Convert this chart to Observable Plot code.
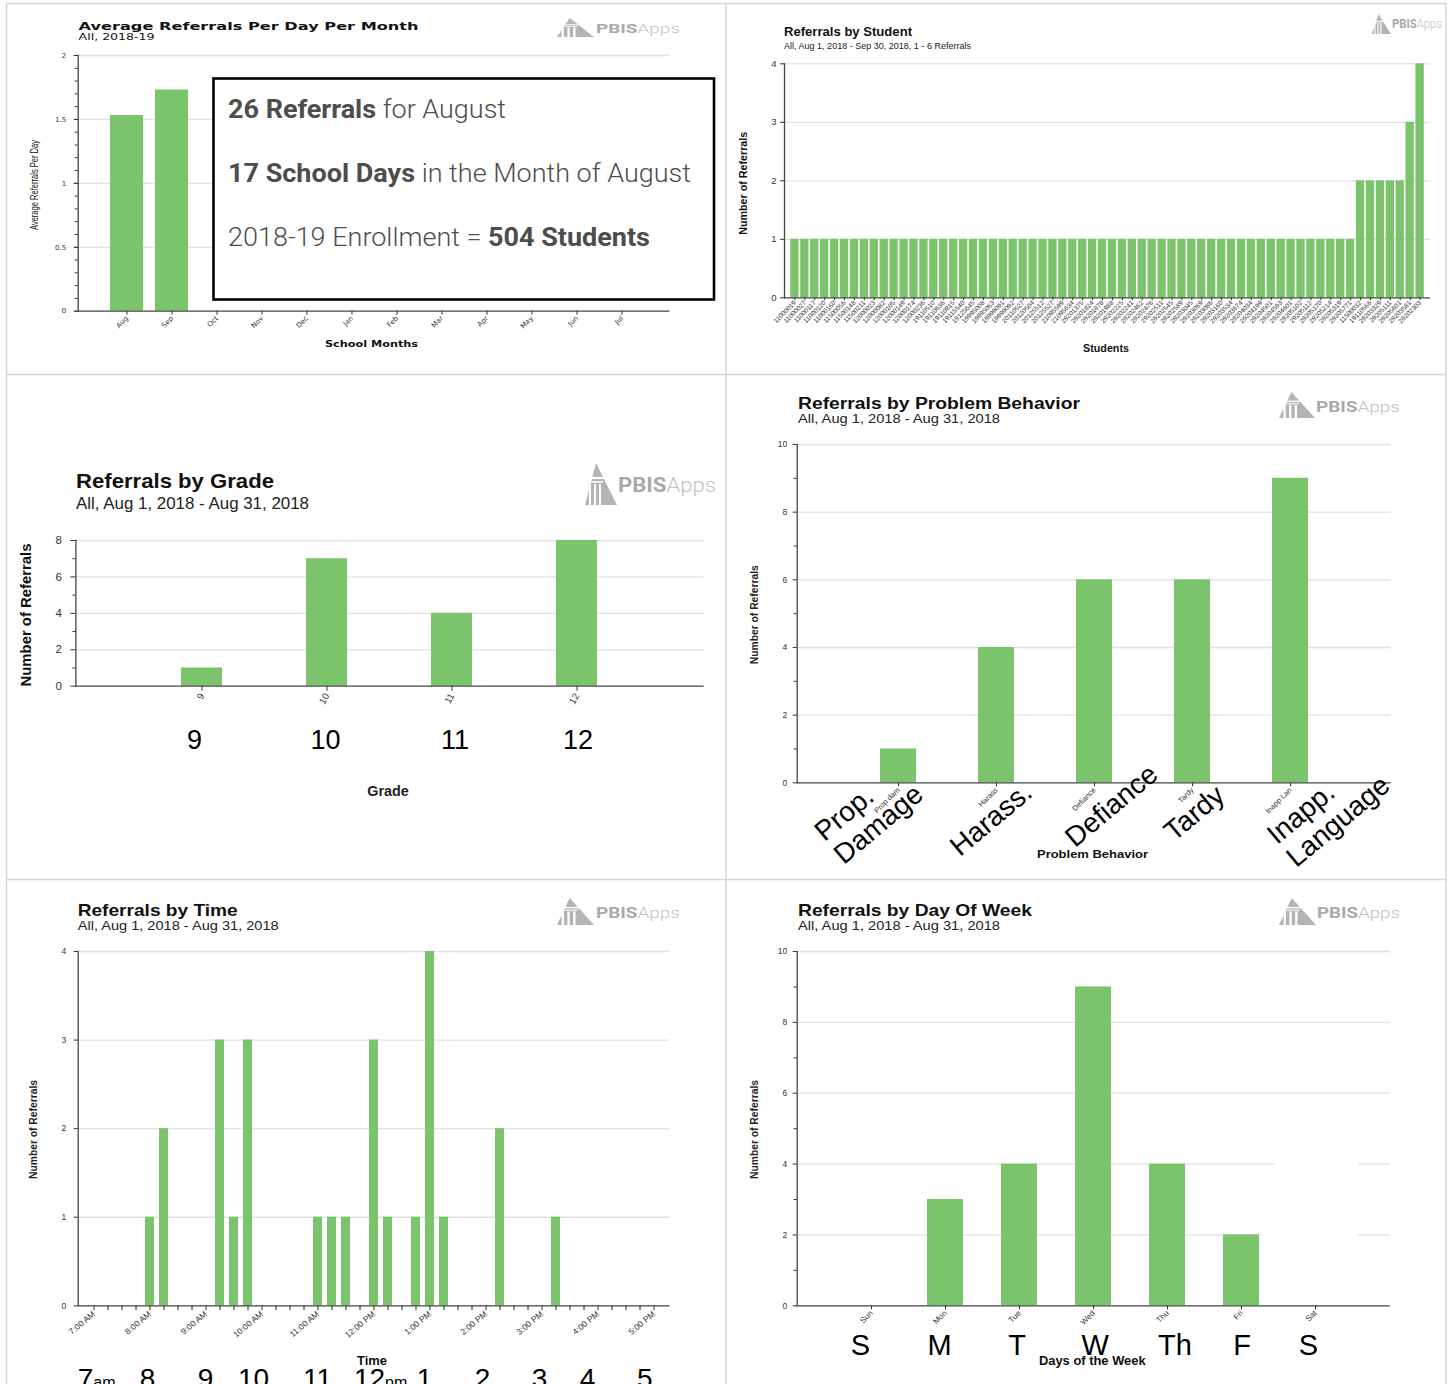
<!DOCTYPE html>
<html><head><meta charset="utf-8">
<script src="https://cdn.jsdelivr.net/npm/d3@7"></script>
<script src="https://cdn.jsdelivr.net/npm/@observablehq/plot@0.6"></script>
<style>
html,body{margin:0;padding:0;background:#fff;overflow:hidden}
#root{position:relative;width:1449px;height:1384px;overflow:hidden;background:#fff}
#root > svg{position:absolute}
</style></head><body><div id="root"></div>
<script>
// ---------------- DATA ----------------
const months = ["Aug","Sep","Oct","Nov","Dec","Jan","Feb","Mar","Apr","May","Jun","Jul"];
const monthAvg = [1.53, 1.73, null, null, null, null, null, null, null, null, null, null];

const studentIds = ["11000019","11000027","11000117","11000120","11000160","11500056","11500148","11500211",
"12000023","12000082","12000105","12000149","12000174","12000236","19110510","19110636","19110815","19115540",
"19125645","19995008","19995063","19999091","19999092","20110527","20120504","20125512","20125527","21095599",
"21095634","29201375","29201824","29201878","29201988","29202225","29202241","29202462","29202476","29202511",
"29202545","29202589","29203045","29203069","29203086","29203160","29203534","29203674","29204034","29204199",
"29204501","29204593","29204601","29205102","29205112","29205170","29205214","29205319","29205771",
"11500032","19110566","29203329","29205111","29205601","29203581","29202303"];
const studentCounts = [1,1,1,1,1,1,1,1,1,1,1,1,1,1,1,1,1,1,1,1,1,1,1,1,1,1,1,1,1,1,1,1,1,1,1,1,1,1,1,1,1,1,1,1,1,1,1,1,1,1,1,1,1,1,1,1,1,
2,2,2,2,2,3,4];

const grades = ["9","10","11","12"];
const gradeCounts = [1,7,4,8];

const behaviors = ["Prop dam","Harass","Defiance","Tardy","Inapp Lan"];
const behaviorCounts = [1,4,6,6,9];
const behaviorBig = ["Prop.\nDamage","Harass.","Defiance","Tardy","Inapp.\nLanguage"];

const timeSlots = ["7:00 AM","7:15 AM","7:30 AM","7:45 AM","8:00 AM","8:15 AM","8:30 AM","8:45 AM","9:00 AM","9:15 AM",
"9:30 AM","9:45 AM","10:00 AM","10:15 AM","10:30 AM","10:45 AM","11:00 AM","11:15 AM","11:30 AM","11:45 AM",
"12:00 PM","12:15 PM","12:30 PM","12:45 PM","1:00 PM","1:15 PM","1:30 PM","1:45 PM","2:00 PM","2:15 PM",
"2:30 PM","2:45 PM","3:00 PM","3:15 PM","3:30 PM","3:45 PM","4:00 PM","4:15 PM","4:30 PM","4:45 PM","5:00 PM"];
const timeCounts = [0,0,0,0,1,2,0,0,0,3,1,3,0,0,0,0,1,1,1,0,3,1,0,1,4,1,0,0,0,2,0,0,0,1,0,0,0,0,0,0,0];
const hourTicks = ["7:00 AM","8:00 AM","9:00 AM","10:00 AM","11:00 AM","12:00 PM","1:00 PM","2:00 PM","3:00 PM","4:00 PM","5:00 PM"];
const hourBig = ["7","8","9","10","11","12","1","2","3","4","5"];
const hourSuffix = ["am","","","","","pm","","","","",""];

const days = ["Sun","Mon","Tue","Wed","Thu","Fri","Sat"];
const dayCounts = [0,3,4,9,4,2,0];
const dayBig = ["S","M","T","W","Th","F","S"];

// ---------------- LAYOUT (kept apart from data) ----------------
const GREEN = "#7bc46c";
const SANS = "'Liberation Sans', Arial, sans-serif";
const NARROW = "'Liberation Sans Narrow', 'Liberation Sans', Arial, sans-serif";
const gradeBigDx = [-7,-1,3.5,1.5];
const behaviorBigDx = [-73.5,-36,-19,-18,-13];
const behaviorBigDy = [60,75,66,60,63];
const dayBigDx = [-10.5,-5.5,-2,2.3,8,1,-6.5];
const hourBigDx = [-8,-2,0,-8,0,-4,-5,-3,-2,-10,-8.6];

const root = document.getElementById("root");

// base borders
const base = d3.create("svg").attr("width",1449).attr("height",1384).style("left","0px").style("top","0px").style("z-index",0);
[[6.5,3,6.5,1384],[726,3,726,1384],[1446,3,1446,1384],[6,3.5,1446,3.5],[6,374.5,1446,374.5],[6,879.5,1446,879.5]]
 .forEach(([x1,y1,x2,y2]) => base.append("line").attr("x1",x1).attr("y1",y1).attr("x2",x2).attr("y2",y2)
   .attr("stroke","#d6d6d6").attr("stroke-width",1.5));
root.appendChild(base.node());

function toRows(keys, vals){ return keys.map((k,i)=>({k, v: vals[i]})).filter(d => d.v != null && d.v !== 0); }

function barPanel(c) {
  const [L,T,W,H] = c.box, [fx0,fy0,fx1,fy1] = c.frame;
  const p = Plot.plot({
    width: W, height: H,
    marginLeft: fx0-L, marginTop: fy0-T, marginRight: L+W-fx1, marginBottom: T+H-fy1,
    style: {background:"transparent", overflow:"visible", fontFamily: c.font, color:"#333"},
    x: {type:"band", domain: c.domain, paddingInner: c.pi, paddingOuter: c.po},
    y: {domain: c.yDomain},
    marks: [
      Plot.gridY(c.grid, {stroke:"#e1e1e1", strokeOpacity:1, strokeWidth:1.3}),
      Plot.barY(c.data, {x:"k", y:"v", fill: GREEN}),
      Plot.ruleY([c.yDomain[0]], {stroke:"#444", strokeWidth:1.3}),
      Plot.frame({anchor:"left", stroke:"#444", strokeWidth:1.3}),
      Plot.axisY({ticks: c.yTicks, tickSize: c.yTickSize, tickPadding: c.yTickPad, fontSize: c.yFont, label: null, tickFormat: d => String(d)}),
      c.yMinor ? Plot.axisY({ticks: c.yMinor, tickSize: 3, tickFormat: () => "", label: null}) : null,
      Plot.axisX({tickRotate: c.rot, tickSize: c.xTickSize, tickPadding: c.xTickPad, fontSize: c.xFont, label: null,
                  tickFormat: c.xFormat || (d => d)})
    ]
  });
  p.style.left = L + "px"; p.style.top = T + "px"; p.style.zIndex = 1;
  root.appendChild(p);
  const sx = p.scale("x"), sy = p.scale("y");
  return {
    cx: v => L + sx.apply(v) + sx.bandwidth/2,
    y: v => T + sy.apply(v)
  };
}

const P1 = barPanel({box:[7,4,719,370], frame:[77.7,55,669.4,310.7], domain: months, data: toRows(months, monthAvg),
  yDomain:[0,2], grid:[0.5,1,1.5,2], yTicks:[0,0.5,1,1.5,2], yMinor: d3.ticks(0,2,20), pi:0.265, po:0.66,
  font:"'DejaVu Sans', Verdana, sans-serif", yFont:7, yTickSize:4, yTickPad:8, rot:-45, xFont:7, xTickSize:4, xTickPad:2});

const P2 = barPanel({box:[727,4,719,370], frame:[784,63.3,1430,297.3], domain: studentIds, data: toRows(studentIds, studentCounts),
  yDomain:[0,4], grid:[1,2,3,4], yTicks:[0,1,2,3,4], pi:0.16, po:0.63,
  font: NARROW, yFont:9.5, yTickSize:4, yTickPad:4, rot:-45, xFont:6.5, xTickSize:3, xTickPad:1});

const P3 = barPanel({box:[7,375,719,504], frame:[75.4,540,703.6,685.7], domain: grades, data: toRows(grades, gradeCounts),
  yDomain:[0,8], grid:[2,4,6,8], yTicks:[0,2,4,6,8], yMinor:[1,3,5,7], pi:0.668, po:0.84,
  font: NARROW, yFont:11.5, yTickSize:5, yTickPad:9, rot:-60, xFont:9.5, xTickSize:5, xTickPad:3});

const P4 = barPanel({box:[727,375,719,504], frame:[796.7,444,1390.7,782.3], domain: behaviors, data: toRows(behaviors, behaviorCounts),
  yDomain:[0,10], grid:[2,4,6,8,10], yTicks:[0,2,4,6,8,10], yMinor:[1,3,5,7,9], pi:0.635, po:0.825,
  font: SANS, yFont:8.5, yTickSize:4, yTickPad:6, rot:-45, xFont:7.5, xTickSize:4, xTickPad:2});

const P5 = barPanel({box:[7,880,719,504], frame:[77.7,951,669.4,1305.3], domain: timeSlots, data: toRows(timeSlots, timeCounts),
  yDomain:[0,4], grid:[1,2,3,4], yTicks:[0,1,2,3,4], pi:0.325, po:0.68,
  font: SANS, yFont:8.5, yTickSize:4, yTickPad:8, rot:-40, xFont:8.5, xTickSize:5, xTickPad:2,
  xFormat: d => hourTicks.includes(d) ? d : ""});

const P6 = barPanel({box:[727,880,719,504], frame:[796.7,951,1389.8,1305.3], domain: days, data: toRows(days, dayCounts),
  yDomain:[0,10], grid:[2,4,6,8,10], yTicks:[0,2,4,6,8,10], yMinor:[1,3,5,7,9], pi:0.514, po:0.76,
  font: SANS, yFont:8.5, yTickSize:4, yTickPad:6, rot:-45, xFont:8, xTickSize:4, xTickPad:2});

// ---------------- OVERLAY ----------------
const ov = d3.create("svg").attr("width",1449).attr("height",1384).style("left","0px").style("top","0px").style("z-index",2)
  .style("pointer-events","none");
root.appendChild(ov.node());

function T(o) {
  const t = ov.append("text").attr("x", o.x).attr("y", o.y)
    .attr("font-family", o.ff || SANS).attr("font-size", o.fs).attr("font-weight", o.fw || "normal")
    .attr("fill", o.fill || "#111").attr("text-anchor", o.anchor || "start");
  if (o.rot) t.attr("transform", `rotate(${o.rot},${o.x},${o.y})`);
  if (o.parts) o.parts.forEach(p => t.append("tspan").attr("font-weight", p.fw || null).text(p.t));
  else t.text(o.t);
  if (o.len) t.attr("textLength", o.len).attr("lengthAdjust", "spacingAndGlyphs");
  return t;
}

function logo(o) {
  const g = ov.append("g").attr("transform", `translate(${o.ix},${o.iy}) scale(${o.iw/32},${o.ih/42})`);
  g.append("path").attr("d","M11,0 L32,42 L0,42 Z").attr("fill","#b4b4b4");
  g.append("path").attr("d","M0,15 L21,15").attr("stroke","#fff").attr("stroke-width",2.2);
  g.append("path").attr("d","M0,19 L18,19").attr("stroke","#fff").attr("stroke-width",1.6);
  [5,10,15].forEach(x => g.append("path").attr("d",`M${x},21 L${x},42`).attr("stroke","#fff").attr("stroke-width",2));
  const t = ov.append("text").attr("x", o.tx).attr("y", o.tb).attr("font-family","Roboto, 'Liberation Sans', sans-serif")
    .attr("font-size", o.fs).attr("textLength", o.tw).attr("lengthAdjust","spacingAndGlyphs");
  t.append("tspan").attr("font-weight",700).attr("fill","#a9a9a9").text("PBIS");
  t.append("tspan").attr("font-weight",300).attr("fill","#c2c2c2").text("Apps");
}

// P1
T({x:78.6, y:30, t:"Average Referrals Per Day Per Month", ff:"'DejaVu Sans', Verdana, sans-serif", fs:11, fw:"bold", len:340});
T({x:78.6, y:40, t:"All, 2018-19", ff:"'DejaVu Sans', Verdana, sans-serif", fs:9, len:76});
T({x:371.5, y:347, t:"School Months", ff:"'DejaVu Sans', Verdana, sans-serif", fs:8.5, fw:"bold", anchor:"middle", len:93});
T({x:37.5, y:185, t:"Average Referrals Per Day", ff:NARROW, fs:10, anchor:"middle", rot:-90, len:90});
logo({ix:557, iy:18, iw:37, ih:19, tx:596, tb:33, fs:13, tw:84});
ov.append("rect").attr("x",213.5).attr("y",78.5).attr("width",500.5).attr("height",221)
  .attr("fill","#fff").attr("stroke","#000").attr("stroke-width",2.6);
const BOX = "Roboto, 'Liberation Sans', sans-serif";
T({x:228, y:117.5, ff:BOX, fs:25.5, fill:"#4d4d4d", len:278, parts:[{t:"26 Referrals", fw:700},{t:" for August", fw:300}]});
T({x:228, y:181.7, ff:BOX, fs:25.5, fill:"#4d4d4d", len:463, parts:[{t:"17 School Days", fw:700},{t:" in the Month of August", fw:300}]});
T({x:228, y:246, ff:BOX, fs:25.5, fill:"#4d4d4d", len:422, parts:[{t:"2018-19 Enrollment = ", fw:300},{t:"504 Students", fw:700}]});

// P2
T({x:784, y:36, t:"Referrals by Student", fs:13, fw:"bold", len:128});
T({x:784, y:48.7, t:"All, Aug 1, 2018 - Sep 30, 2018, 1 - 6 Referrals", fs:9, fill:"#222", len:187});
T({x:1106, y:351.5, t:"Students", fs:11.5, fw:"bold", anchor:"middle", len:46});
T({x:747, y:183.3, t:"Number of Referrals", fs:11, fw:"bold", anchor:"middle", rot:-90, len:103});
logo({ix:1372, iy:14, iw:19, ih:20, tx:1392, tb:28, fs:13, tw:50});

// P3
T({x:76, y:488, t:"Referrals by Grade", fs:21, fw:"bold", len:198});
T({x:76, y:509, t:"All, Aug 1, 2018 - Aug 31, 2018", fs:16.5, fill:"#222", len:233});
T({x:388, y:795.7, t:"Grade", fs:14.5, fw:"bold", fill:"#222", anchor:"middle", len:41.5});
T({x:31, y:615, t:"Number of Referrals", fs:14.5, fw:"bold", anchor:"middle", rot:-90, len:143});
logo({ix:585, iy:463, iw:32, ih:42, tx:618, tb:492, fs:21, tw:98});
grades.forEach((g,i) => T({x: P3.cx(g) + gradeBigDx[i], y:749, t:g, fs:27, fill:"#000", anchor:"middle"}));

// P4
T({x:798, y:409, t:"Referrals by Problem Behavior", fs:16, fw:"bold", len:282});
T({x:798, y:423.3, t:"All, Aug 1, 2018 - Aug 31, 2018", fs:13.5, fill:"#222", len:202});
T({x:1092.5, y:857.7, t:"Problem Behavior", fs:11.5, fw:"bold", anchor:"middle", len:111});
T({x:758, y:614.7, t:"Number of Referrals", fs:11, fw:"bold", fill:"#222", anchor:"middle", rot:-90, len:99});
logo({ix:1279, iy:392, iw:36, ih:26, tx:1316, tb:412, fs:15, tw:84});
behaviors.forEach((b,i) => {
  const px = P4.cx(b) + behaviorBigDx[i], py = P4.y(0) + behaviorBigDy[i];
  const t = ov.append("text").attr("transform", `translate(${px},${py}) rotate(-40)`)
    .attr("font-family", SANS).attr("font-size", 28).attr("fill", "#000");
  behaviorBig[i].split("\n").forEach((line, j) => t.append("tspan").attr("x", 0).attr("dy", j ? 30 : 0).text(line));
});

// P5
T({x:77.7, y:916, t:"Referrals by Time", fs:16.5, fw:"bold", len:160});
T({x:77.7, y:930, t:"All, Aug 1, 2018 - Aug 31, 2018", fs:13, fill:"#222", len:201});
T({x:372, y:1365, t:"Time", fs:12, fw:"bold", anchor:"middle", len:30});
T({x:37, y:1129.5, t:"Number of Referrals", fs:11, fw:"bold", fill:"#222", anchor:"middle", rot:-90, len:99});
logo({ix:557, iy:898, iw:37, ih:27, tx:596, tb:918, fs:15, tw:84});
hourTicks.forEach((h,i) => {
  const cx = P5.cx(h) + hourBigDx[i];
  const t = T({x:cx, y:1388, t:hourBig[i], fs:28, fill:"#000", anchor:"middle"});
  if (hourSuffix[i]) {
    const w = t.node().getComputedTextLength();
    T({x: cx + w/2, y:1388, t:hourSuffix[i], fs:16, fill:"#000"});
  }
});

// P6
T({x:798, y:916, t:"Referrals by Day Of Week", fs:16.5, fw:"bold", len:234});
T({x:798, y:930, t:"All, Aug 1, 2018 - Aug 31, 2018", fs:13, fill:"#222", len:202});
T({x:1092.3, y:1365, t:"Days of the Week", fs:12, fw:"bold", anchor:"middle", len:106.7});
T({x:758, y:1129.5, t:"Number of Referrals", fs:11, fw:"bold", fill:"#222", anchor:"middle", rot:-90, len:99});
logo({ix:1279, iy:898, iw:37, ih:27, tx:1317, tb:918, fs:15, tw:83});
ov.append("rect").attr("x",1275).attr("y",1150).attr("width",83).attr("height",150).attr("fill","#fff");
ov.append("rect").attr("x",1261.5).attr("y",1200).attr("width",14).attr("height",100).attr("fill","#fff");
days.forEach((d,i) => T({x: P6.cx(d) + dayBigDx[i], y:1355, t:dayBig[i], fs:29, fill:"#000", anchor:"middle"}));
</script>
</body></html>
